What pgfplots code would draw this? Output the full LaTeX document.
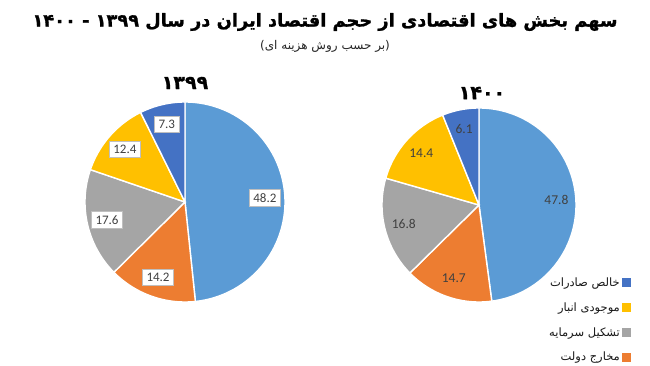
\documentclass[border=0pt]{standalone}
\usepackage{fontspec}
\usepackage{pgfplots}
\pgfplotsset{compat=1.18}
\usepackage{pgfplotstable}
\setmainfont{Carlito}
\newfontfamily\arabicfont[Script=Arabic]{DejaVu Sans}
\newfontfamily\titlefont[Script=Arabic, FakeBold=1.2]{DejaVu Sans Bold}
\newfontfamily\digitfont{DejaVu Sans}
\newfontfamily\digitbold[FakeBold=1.2]{DejaVu Sans Bold}
\TeXXeTstate=1

\definecolor{cLB}{HTML}{5B9BD5}
\definecolor{cOR}{HTML}{ED7D31}
\definecolor{cGR}{HTML}{A5A5A5}
\definecolor{cYE}{HTML}{FFC000}
\definecolor{cDB}{HTML}{4472C4}
\definecolor{txt}{HTML}{404040}

% 1399: light blue, orange, grey, yellow, dark blue (clockwise from top)
\pgfplotstableread{
val
48.2
14.2
17.6
12.4
7.3
}\dataA
% 1400
\pgfplotstableread{
val
47.8
14.7
16.8
14.4
6.1
}\dataB

\newcommand\settotal[1]{%
  \gdef\pietotal{0}\gdef\piecum{0}%
  \foreach \r in {0,...,4}{%
    \pgfplotstablegetelem{\r}{val}\of#1%
    \pgfmathsetmacro\pietmp{\pietotal+\pgfplotsretval}\xdef\pietotal{\pietmp}}%
}
\pgfplotsset{
  lab1399/.style={fill=white, draw=black!25, text=txt, inner sep=4pt, font=\fontsize{13}{15}\selectfont},
  lab1400/.style={text=txt, font=\fontsize{13.5}{15}\selectfont},
}
% #1 table, #2 row, #3 slice options, #4 label style name
\newcommand\pieslice[4]{%
  \pgfplotstablegetelem{#2}{val}\of#1%
  \edef\pieval{\pgfplotsretval}%
  \pgfmathsetmacro\aS{90-360*(\piecum/\pietotal)}%
  \pgfmathsetmacro\aE{90-360*((\piecum+\pieval)/\pietotal)}%
  \pgfmathsetmacro\aM{(\aS+\aE)/2}%
  \pgfmathsetmacro\lx{0.8*cos(\aM)}%
  \pgfmathsetmacro\ly{0.8*sin(\aM)}%
  \edef\doit{\noexpand\addplot[\unexpanded{#3}, draw=white, line width=1.4pt, domain=\aE:\aS, samples=90]
     ({cos(x)},{sin(x)}) -- (axis cs:0,0) -- cycle;}%
  \doit
  \edef\dolab{\noexpand\addplot[forget plot, draw=none, mark=none,
     point meta=explicit symbolic, nodes near coords, nodes near coords align={center},
     every node near coord/.append style={/pgfplots/#4}]
     coordinates {(\lx,\ly) [\pieval]};}%
  \dolab
  \pgfmathsetmacro\newcum{\piecum+\pieval}\xdef\piecum{\newcum}%
}

\begin{document}
\begin{tikzpicture}
\path[use as bounding box, fill=white] (0,0) rectangle (650pt,366pt);

\node[font=\titlefont\fontsize{17.8}{22}\selectfont, text=black] at (325pt,344pt)
  {\beginR سهم بخش های اقتصادی از حجم اقتصاد ایران در سال {\digitbold ۱۳۹۹} - {\digitbold ۱۴۰۰}\endR};
\node[font=\arabicfont\fontsize{12}{14}\selectfont, text=black!85] at (325pt,320pt)
  {\beginR (بر حسب روش هزینه ای)\endR};

\node[font=\digitbold\fontsize{19}{22}\selectfont] at (185pt,283pt) {۱۳۹۹};
\node[font=\digitbold\fontsize{19}{22}\selectfont] at (482pt,273pt) {۱۴۰۰};

% ---- 1399 ----
\settotal{\dataA}
\begin{axis}[at={(185pt,164pt)}, anchor=center, x=100pt, y=100pt,
  xmin=-1.2, xmax=1.2, ymin=-1.2, ymax=1.2, hide axis, clip=false, scale only axis]
\pieslice{\dataA}{0}{fill=cLB, forget plot}{lab1399}
\pieslice{\dataA}{1}{fill=cOR, forget plot}{lab1399}
\pieslice{\dataA}{2}{fill=cGR, forget plot}{lab1399}
\pieslice{\dataA}{3}{fill=cYE, forget plot}{lab1399}
\pieslice{\dataA}{4}{fill=cDB, forget plot}{lab1399}
\end{axis}

% ---- 1400 ----
\settotal{\dataB}
\begin{axis}[at={(479pt,161pt)}, anchor=center, x=97pt, y=97pt,
  xmin=-1.2, xmax=1.2, ymin=-1.2, ymax=1.2, hide axis, clip=false, scale only axis,
  legend style={at={(1.166,0.205)}, anchor=north east, draw=none, fill=none,
    font=\arabicfont\fontsize{11.5}{13}\selectfont, text=black!90, row sep=10.5pt},
  legend cell align=right, legend plot pos=right, reverse legend,
  legend image code/.code={\path[fill, draw=none] (0pt,-4.5pt) rectangle (9pt,4.5pt);}]
\pieslice{\dataB}{0}{fill=cLB, forget plot}{lab1400}
\pieslice{\dataB}{1}{fill=cOR}{lab1400}
\pieslice{\dataB}{2}{fill=cGR}{lab1400}
\pieslice{\dataB}{3}{fill=cYE}{lab1400}
\pieslice{\dataB}{4}{fill=cDB}{lab1400}
\legend{\beginR مخارج دولت\endR, \beginR تشکیل سرمایه\endR, \beginR موجودی انبار\endR, \beginR خالص صادرات\endR}
\end{axis}
\end{tikzpicture}
\end{document}
